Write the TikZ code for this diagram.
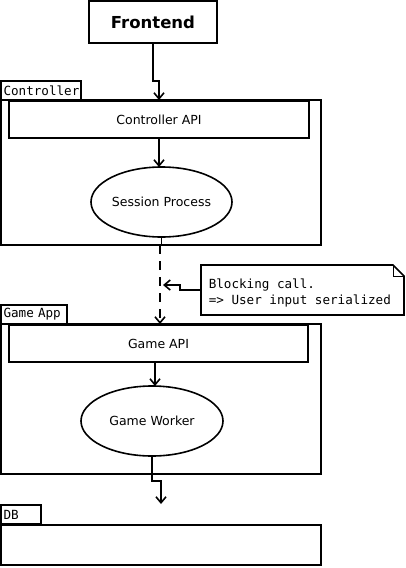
\documentclass[tikz,border=0pt]{standalone}
\usepackage{fontspec}
\setmainfont{DejaVu Sans}
\setmonofont{DejaVu Sans Mono}
\usetikzlibrary{arrows.meta,shapes.geometric}
\begin{document}
\begin{tikzpicture}[x=1pt,y=-1pt,line width=1.6pt,
  lbl/.style={font=\fontsize{12.5}{15}\selectfont},
  mono/.style={font=\ttfamily\fontsize{12.6}{16}\selectfont},
  box/.style={draw, rectangle, inner sep=0pt, outer sep=0pt, anchor=north west},
  tab/.style={box, mono, inner xsep=2.5pt, align=left, minimum height=19pt},
  oval/.style={draw, ellipse, inner sep=0pt, outer sep=0pt, lbl},
  arr/.style={-{Straight Barb[length=6pt,width=10pt]}},
  thin line/.style={line width=0.8pt}]
\useasboundingbox (0,0) rectangle (406,568);

% Frontend
\node[box, minimum width=128pt, minimum height=42pt,
      font=\bfseries\fontsize{16.5}{19}\selectfont] (fe) at (89,1) {Frontend};

% Controller
\node[tab, text width=75pt] (ctab) at (1,81) {Controller};
\node[box, minimum width=320pt, minimum height=145pt] (ctrl) at (1,100) {};
\node[box, lbl, minimum width=300pt, minimum height=37pt] (capi) at (9,101) {Controller API};
\node[oval, minimum width=141pt, minimum height=70pt] (sp) at (161.5,202) {Session Process};

% Game App
\node[tab, text width=61pt] (gtab) at (1,305) {Game App};
\node[box, minimum width=320pt, minimum height=150pt] (gapp) at (1,324) {};
\node[box, lbl, minimum width=299pt, minimum height=37pt] (gapi) at (9,325) {Game API};
\node[oval, minimum width=142pt, minimum height=70pt] (gw) at (152,421) {Game Worker};

% DB
\node[tab, text width=35pt] (dtab) at (1,505) {DB};
\node[box, minimum width=320pt, minimum height=40pt] (db) at (1,525) {};

% Note
\node[box, draw=none, minimum width=203pt, minimum height=50pt] (note) at (201,265) {};
\node[mono, anchor=west, align=left, inner sep=0pt] (notetxt) at (208,293)
  {Blocking call.\\=> User input serialized};
\draw (note.north west) -- ([xshift=-11pt]note.north east)
  -- ([yshift=-11pt]note.north east) -- (note.south east)
  -- (note.south west) -- cycle;
\draw[thin line] ([xshift=-11pt]note.north east) -- ++(0,11) -- ([yshift=-11pt]note.north east);

% Connectors
\coordinate (ctrlin) at (159,100);
\draw[arr] (fe.south) -- ++(0,38) -| (ctrlin);
\draw[arr] (capi.south) -- (capi.south |- sp.north);
\draw (sp.south) -- (sp.south |- ctrl.south);
\coordinate (gin) at (160,324);
\coordinate (gout) at (160,245);
\draw[arr, dashed, dash pattern=on 9pt off 7pt] (gout) -- (gin);
\coordinate (gapiout) at (155,362);
\draw[arr] (gapiout) -- (gapiout |- gw.north);
\coordinate (dbin) at (161,504);
\draw[arr] (gw.south) -- ++(0,25) -| (dbin);
\coordinate (notetip) at (163,285);
\draw[arr] (note.west) -- ++(-21,0) |- (notetip);
\end{tikzpicture}
\end{document}
